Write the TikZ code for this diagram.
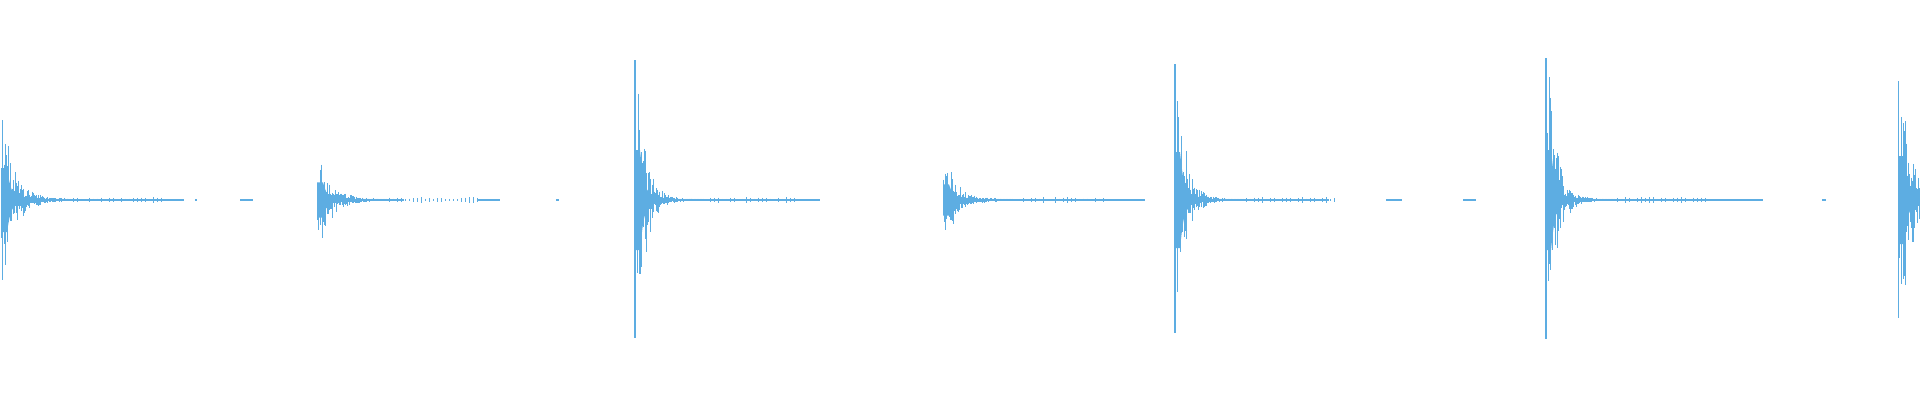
\documentclass[tikz,border=0pt]{standalone}
\definecolor{wave}{RGB}{93,173,226}
\tikzset{wv/.style={draw=wave,line width=0.8pt}}
\newcommand{\burst}[4]{%
  % #1 x0, #2 amplitude, #3 tail end, #4 decay
  \draw[wave,line width=1.4pt] (#1,200) -- (#3,200);
  \fill[wave] (#1,200-0.4*#2) -- (#1+6,200-0.4*#2) .. controls (#1+10,200-0.1*#2) .. (#1+20,198)
     -- (#1+20,202) .. controls (#1+10,200+0.1*#2) .. (#1+6,200+0.4*#2) -- (#1,200+0.4*#2) -- cycle;
  \foreach \i in {0,0.6,...,70}{%
    \pgfmathsetmacro{\env}{#2*min(1,0.5+\i/8)*exp(-max(0,\i-4)/#4)}
    \pgfmathsetmacro{\au}{\env*(0.15+0.85*rnd^2)}
    \pgfmathsetmacro{\ad}{\env*(0.15+0.85*rnd^2)}
    \draw[wv] (#1+\i,200-\au-1) -- (#1+\i,200+\ad+1);
  }
  \foreach \i in {72,76,...,160}{%
    \pgfmathsetmacro{\au}{0.8+2*rnd}
    \draw[wv] (#1+\i,200-\au) -- (#1+\i,200+\au);
  }
}
\begin{document}
\begin{tikzpicture}[x=1pt,y=-1pt]
\pgfmathsetseed{11}
\useasboundingbox (0,0) rectangle (1920,400);
\burst{1}{80}{184}{12}
\draw[wave,line width=1.4pt] (158,200) -- (182,200) (195,200)--(197,200) (240,200)--(253,200);
\burst{317}{44}{404}{12}
\draw[wave,line width=1.4pt] (478,200)--(500,200) (556,200)--(559,200);
\burst{634}{125}{820}{9}
\draw[wave,line width=1.6pt] (635,60)--(635,338);
\burst{943}{39}{1145}{12}
\burst{1174}{120}{1329}{9}
\draw[wave,line width=1.6pt] (1175,64)--(1175,333);
\draw[wave,line width=1.4pt] (1386,200)--(1402,200) (1463,200)--(1476,200);
\burst{1545}{125}{1763}{9}
\draw[wave,line width=1.6pt] (1546,58)--(1546,339);
\draw[wave,line width=1.4pt] (1822,200)--(1826,200);
\burst{1898}{110}{1920}{12}
\draw[wave,line width=1pt] (2,120)--(2,280) (1898,81)--(1898,318);
\end{tikzpicture}
\end{document}
